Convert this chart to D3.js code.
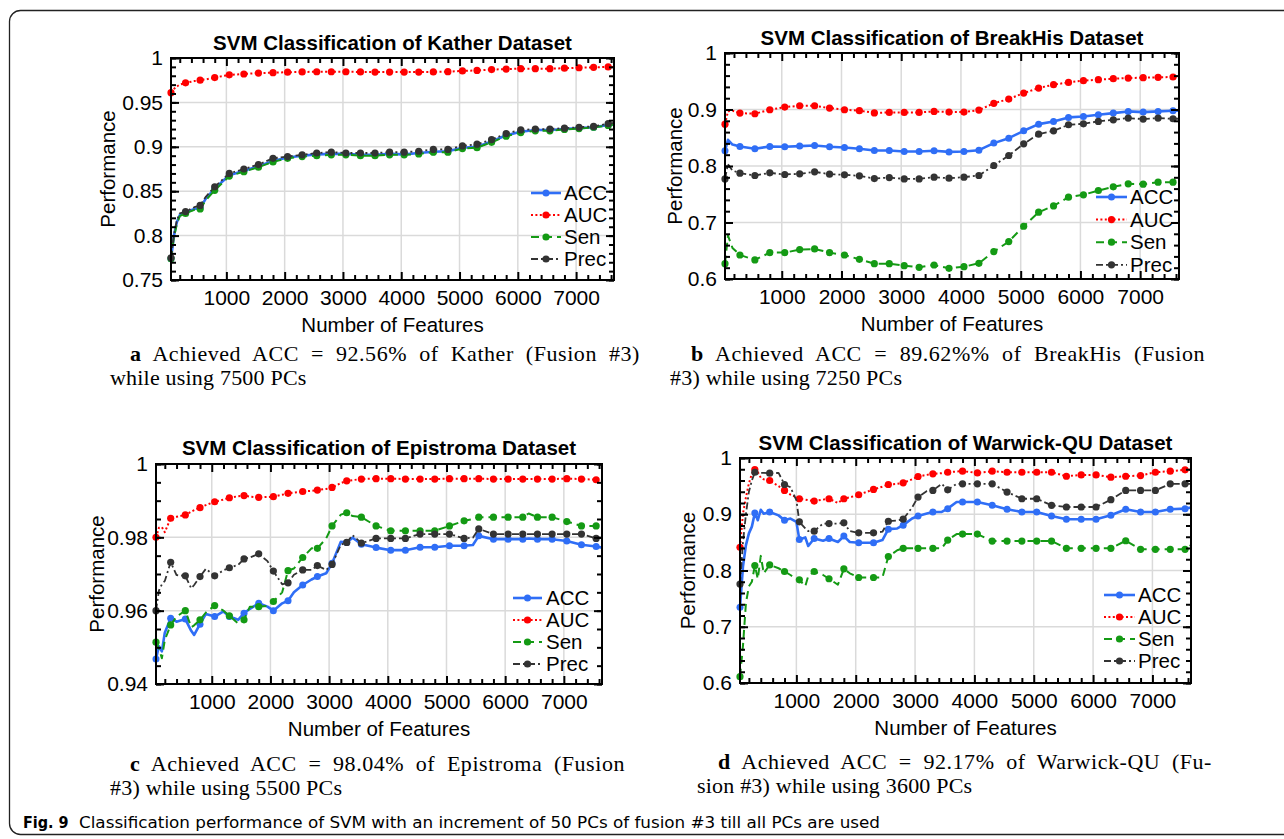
<!DOCTYPE html>
<html>
<head>
<meta charset="utf-8">
<script src="https://cdn.jsdelivr.net/npm/d3@7"></script>
<style>
body { margin: 0; background: #fff; }
svg { display: block; }
</style>
</head>
<body>
<svg id="canvas"></svg>
<script>
/** Shared values */
const seriesNames = ['ACC', 'AUC', 'Sen', 'Prec'];
const xMajorTicks = [1000, 2000, 3000, 4000, 5000, 6000, 7000];
const xMinorTicks = [200, 400, 600, 800, 1200, 1400, 1600, 1800, 2200, 2400, 2600, 2800, 3200, 3400, 3600, 3800,
    4200, 4400, 4600, 4800, 5200, 5400, 5600, 5800, 6200, 6400, 6600, 6800, 7200, 7400, 7600];

/** (a) Kather */
const katherX = [50, 100, 150, 200, 300, 450, 550, 650, 800, 1050,
    1300, 1550, 1800, 2050, 2300, 2550, 2800, 3050, 3300, 3550,
    3800, 4050, 4300, 4550, 4800, 5050, 5300, 5550, 5800, 6050,
    6300, 6550, 6800, 7050, 7300, 7550, 7650];
const katherACC = [0.774, 0.800, 0.815, 0.823, 0.826, 0.830, 0.831, 0.842, 0.853, 0.868,
    0.873, 0.878, 0.884, 0.888, 0.890, 0.8915, 0.892, 0.892, 0.891, 0.891,
    0.892, 0.8915, 0.893, 0.8945, 0.895, 0.899, 0.900, 0.906, 0.913, 0.917,
    0.919, 0.919, 0.920, 0.921, 0.922, 0.9245, 0.925];
const katherAUC = [0.961, 0.965, 0.968, 0.970, 0.972, 0.974, 0.975, 0.976, 0.978, 0.981,
    0.982, 0.983, 0.9835, 0.984, 0.9843, 0.9845, 0.9845, 0.9845, 0.9843, 0.9842,
    0.9842, 0.9842, 0.9842, 0.9843, 0.9846, 0.9855, 0.986, 0.987, 0.9875, 0.988,
    0.988, 0.988, 0.9885, 0.989, 0.9895, 0.990, 0.990];
const katherSen = [0.774, 0.798, 0.813, 0.822, 0.825, 0.829, 0.830, 0.840, 0.851, 0.867,
    0.872, 0.877, 0.883, 0.887, 0.889, 0.890, 0.891, 0.891, 0.890, 0.890,
    0.891, 0.891, 0.892, 0.894, 0.894, 0.898, 0.899, 0.905, 0.912, 0.916,
    0.918, 0.918, 0.9195, 0.9205, 0.922, 0.924, 0.925];
const katherPrec = [0.775, 0.801, 0.817, 0.825, 0.827, 0.832, 0.834, 0.844, 0.855, 0.870,
    0.875, 0.880, 0.887, 0.889, 0.891, 0.893, 0.894, 0.893, 0.893, 0.893,
    0.894, 0.894, 0.895, 0.897, 0.897, 0.901, 0.903, 0.908, 0.915, 0.919,
    0.920, 0.920, 0.921, 0.922, 0.923, 0.926, 0.927];
const katherYTicks = [0.75, 0.8, 0.85, 0.9, 0.95, 1];

/** (b) BreakHis */
const breakX = [50, 100, 175, 300, 550, 800, 1050, 1300, 1550, 1800,
    2050, 2300, 2550, 2800, 3050, 3300, 3550, 3800, 4050, 4300,
    4550, 4800, 5050, 5300, 5550, 5800, 6050, 6300, 6550, 6800,
    7050, 7300, 7550, 7650];
const breakACC = [0.8269, 0.8464, 0.838, 0.8346, 0.8304, 0.8346, 0.834, 0.8352, 0.8363, 0.834,
    0.8328, 0.8304, 0.8275, 0.8275, 0.8257, 0.8257, 0.8269, 0.825, 0.8257, 0.828,
    0.8405, 0.8493, 0.8623, 0.8741, 0.8789, 0.886, 0.8877, 0.8907, 0.8936, 0.8966,
    0.8954, 0.8966, 0.8978, 0.8978];
const breakAUC = [0.874, 0.897, 0.898, 0.8936, 0.8925, 0.8996, 0.9043, 0.9066, 0.9066, 0.9025,
    0.8996, 0.898, 0.894, 0.8948, 0.8948, 0.8948, 0.8966, 0.8954, 0.8954, 0.899,
    0.911, 0.9185, 0.929, 0.938, 0.9439, 0.948, 0.951, 0.9527, 0.9545, 0.9557,
    0.9563, 0.957, 0.9575, 0.9575];
const breakSen = [0.6272, 0.6768, 0.655, 0.6425, 0.6337, 0.6467, 0.6467, 0.652, 0.6532, 0.6467,
    0.6425, 0.6349, 0.6272, 0.6272, 0.6236, 0.6207, 0.6248, 0.6189, 0.6218, 0.6278,
    0.6485, 0.6662, 0.6934, 0.7182, 0.7294, 0.7448, 0.749, 0.7566, 0.7631, 0.7684,
    0.7678, 0.7714, 0.7714, 0.7714];
const breakPrec = [0.7772, 0.8032, 0.792, 0.7873, 0.7832, 0.7879, 0.785, 0.7861, 0.7897, 0.7855,
    0.7844, 0.7826, 0.7778, 0.7796, 0.7772, 0.7772, 0.7802, 0.7784, 0.7802, 0.7832,
    0.8009, 0.8186, 0.8393, 0.8564, 0.8623, 0.873, 0.8747, 0.8789, 0.8818, 0.8848,
    0.883, 0.8848, 0.8836, 0.8836];
const breakYTicks = [0.6, 0.7, 0.8, 0.9, 1];

/** (c) Epistroma */
const epiX = [50, 100, 150, 200, 300, 400, 550, 650, 700, 800,
    900, 1050, 1200, 1300, 1450, 1550, 1650, 1800, 1950, 2050,
    2200, 2300, 2400, 2550, 2700, 2800, 2950, 3050, 3200, 3300,
    3400, 3550, 3800, 4050, 4300, 4550, 4800, 5050, 5300, 5450,
    5550, 5800, 6050, 6300, 6400, 6550, 6800, 7050, 7300, 7550,
    7650];
const epiACC = [0.9468, 0.9503, 0.9489, 0.9540, 0.9579, 0.9570, 0.9577, 0.9545, 0.9534, 0.9563,
    0.9591, 0.9584, 0.9598, 0.9584, 0.9575, 0.9593, 0.9605, 0.9620, 0.9611, 0.9600,
    0.9620, 0.9627, 0.9650, 0.9670, 0.9685, 0.9693, 0.9702, 0.9729, 0.9788, 0.9786,
    0.9799, 0.9781, 0.9772, 0.9765, 0.9765, 0.9773, 0.9773, 0.9777, 0.9777, 0.9779,
    0.9804, 0.9795, 0.9795, 0.9795, 0.9797, 0.9795, 0.9795, 0.9790, 0.9780, 0.9775,
    0.9772];
const epiAUC = [0.9800, 0.9826, 0.9828, 0.9814, 0.9852, 0.9856, 0.9861, 0.9870, 0.9874, 0.9881,
    0.9888, 0.9897, 0.9903, 0.9908, 0.9912, 0.9914, 0.9911, 0.9909, 0.9910, 0.9911,
    0.9916, 0.9920, 0.9922, 0.9925, 0.9927, 0.9929, 0.9932, 0.9936, 0.9948, 0.9954,
    0.9956, 0.9959, 0.9960, 0.9960, 0.9959, 0.9959, 0.9959, 0.9960, 0.9960, 0.9960,
    0.9960, 0.9959, 0.9959, 0.9959, 0.9959, 0.9959, 0.9959, 0.9960, 0.9959, 0.9957,
    0.9955];
const epiSen = [0.9514, 0.9497, 0.9470, 0.9520, 0.9561, 0.9584, 0.9600, 0.9555, 0.9560, 0.9575,
    0.9595, 0.9614, 0.9600, 0.9586, 0.9565, 0.9575, 0.9611, 0.9611, 0.9613, 0.9625,
    0.9650, 0.9709, 0.9715, 0.9745, 0.9770, 0.9770, 0.9797, 0.9831, 0.9862, 0.9867,
    0.9858, 0.9855, 0.9831, 0.9818, 0.9818, 0.9818, 0.9818, 0.9831, 0.9845, 0.9850,
    0.9855, 0.9855, 0.9855, 0.9855, 0.9865, 0.9855, 0.9855, 0.9843, 0.9831, 0.9831,
    0.9831];
const epiPrec = [0.9600, 0.9655, 0.9672, 0.9681, 0.9732, 0.9697, 0.9695, 0.9661, 0.9670, 0.9693,
    0.9714, 0.9695, 0.9710, 0.9717, 0.9725, 0.9741, 0.9745, 0.9755, 0.9735, 0.9708,
    0.9672, 0.9676, 0.9698, 0.9711, 0.9711, 0.9723, 0.9711, 0.9726, 0.9780, 0.9786,
    0.9806, 0.9784, 0.9797, 0.9797, 0.9797, 0.9809, 0.9809, 0.9809, 0.9797, 0.9799,
    0.9823, 0.9809, 0.9809, 0.9809, 0.9809, 0.9809, 0.9809, 0.9809, 0.9809, 0.9797,
    0.9797];
const epiYTicks = [0.94, 0.96, 0.98, 1];

/** (d) Warwick-QU */
const warX = [50, 100, 150, 200, 250, 300, 350, 400, 450, 550,
    700, 800, 900, 1000, 1050, 1150, 1200, 1300, 1450, 1550,
    1700, 1800, 1900, 2050, 2300, 2450, 2550, 2700, 2800, 2950,
    3050, 3200, 3300, 3450, 3550, 3700, 3800, 4050, 4300, 4550,
    4800, 5050, 5300, 5550, 5800, 6050, 6300, 6550, 6800, 7050,
    7300, 7550, 7650];
const warACC = [0.7347, 0.807, 0.845, 0.866, 0.878, 0.9024, 0.8894, 0.908, 0.901, 0.904,
    0.898, 0.8894, 0.8924, 0.8865, 0.8553, 0.8588, 0.8435, 0.857, 0.8529, 0.857,
    0.8506, 0.8612, 0.8506, 0.8494, 0.8494, 0.8541, 0.8735, 0.8747, 0.8806, 0.8924,
    0.897, 0.9012, 0.9041, 0.9041, 0.910, 0.9218, 0.9218, 0.9218, 0.9159, 0.9088,
    0.9041, 0.9041, 0.897, 0.8912, 0.8912, 0.8912, 0.8982, 0.9088, 0.9041, 0.9041,
    0.9088, 0.910, 0.912];
const warAUC = [0.8412, 0.901, 0.930, 0.955, 0.972, 0.9794, 0.975, 0.965, 0.962, 0.960,
    0.950, 0.9424, 0.935, 0.930, 0.9276, 0.926, 0.925, 0.9235, 0.926, 0.9276,
    0.920, 0.9276, 0.930, 0.9347, 0.9441, 0.949, 0.9529, 0.954, 0.9559, 0.962,
    0.9671, 0.970, 0.9718, 0.973, 0.9747, 0.976, 0.9765, 0.9735, 0.9765, 0.9747,
    0.9747, 0.9747, 0.9747, 0.9676, 0.970, 0.970, 0.9659, 0.9676, 0.9688, 0.9747,
    0.9765, 0.979, 0.979];
const warSen = [0.6112, 0.666, 0.742, 0.772, 0.780, 0.8088, 0.785, 0.826, 0.795, 0.810,
    0.804, 0.7982, 0.792, 0.785, 0.7835, 0.772, 0.790, 0.7982, 0.792, 0.7853,
    0.7747, 0.8029, 0.795, 0.7876, 0.7876, 0.7876, 0.8247, 0.836, 0.8394, 0.8394,
    0.8394, 0.8394, 0.8394, 0.8394, 0.8541, 0.8647, 0.8647, 0.8647, 0.8523, 0.8523,
    0.8523, 0.8523, 0.8523, 0.8394, 0.8394, 0.8394, 0.8394, 0.8529, 0.8376, 0.8376,
    0.8376, 0.8376, 0.845];
const warPrec = [0.7759, 0.850, 0.900, 0.940, 0.960, 0.9747, 0.972, 0.9735, 0.9735, 0.973,
    0.9735, 0.9529, 0.948, 0.925, 0.8865, 0.875, 0.870, 0.870, 0.8835, 0.8835,
    0.8835, 0.8847, 0.870, 0.867, 0.867, 0.869, 0.8876, 0.889, 0.8912, 0.912,
    0.9306, 0.9412, 0.9424, 0.9541, 0.9435, 0.9541, 0.9541, 0.9541, 0.9541, 0.9394,
    0.9276, 0.9276, 0.9159, 0.9129, 0.9129, 0.9129, 0.9259, 0.9424, 0.9424, 0.9424,
    0.9541, 0.9541, 0.9541];
const warYTicks = [0.6, 0.7, 0.8, 0.9, 1];

/** Main values */
let width = 1284;
let height = 839;
let tickFont = '"Liberation Sans", Arial, Helvetica, sans-serif';
let serifFont = '"Liberation Serif", "Times New Roman", serif';
let narrowFont = '"Liberation Sans Narrow", "DejaVu Sans Condensed", sans-serif';

let styles = {
    ACC: { color: '#2f6ef6', width: 2.6, dash: null, r: 3.5 },
    AUC: { color: '#ff0000', width: 2, dash: '2,2.4', r: 3.6 },
    Sen: { color: '#149a14', width: 2, dash: '8,5', r: 3.6 },
    Prec: { color: '#333333', width: 1.8, dash: '7,3,2,3', r: 3.6 }
};

let panels = [
    {
        title: 'SVM Classification of Kather Dataset', titleY: 50,
        x: katherX, series: { ACC: katherACC, AUC: katherAUC, Sen: katherSen, Prec: katherPrec },
        yTicks: katherYTicks, yMinor: 5,
        left: 171, right: 614, top: 58, bottom: 280, ylabelX: 108,
        legend: { x0: 531, x1: 561, tx: 564, y0: 193, dy: 22 }
    },
    {
        title: 'SVM Classification of BreakHis Dataset', titleY: 45,
        x: breakX, series: { ACC: breakACC, AUC: breakAUC, Sen: breakSen, Prec: breakPrec },
        yTicks: breakYTicks, yMinor: 5,
        left: 725, right: 1179, top: 53, bottom: 279, ylabelX: 675,
        legend: { x0: 1096, x1: 1127, tx: 1130, y0: 197, dy: 22.6 }
    },
    {
        title: 'SVM Classification of Epistroma Dataset', titleY: 455,
        x: epiX, series: { ACC: epiACC, AUC: epiAUC, Sen: epiSen, Prec: epiPrec },
        yTicks: epiYTicks, yMinor: 4,
        left: 156, right: 602, top: 464, bottom: 684, ylabelX: 97,
        legend: { x0: 513, x1: 542, tx: 546, y0: 598, dy: 22 }
    },
    {
        title: 'SVM Classification of Warwick-QU Dataset', titleY: 450,
        x: warX, series: { ACC: warACC, AUC: warAUC, Sen: warSen, Prec: warPrec },
        yTicks: warYTicks, yMinor: 5,
        left: 740, right: 1191, top: 458, bottom: 683, ylabelX: 688,
        legend: { x0: 1104, x1: 1135, tx: 1138, y0: 595, dy: 22 }
    }
];

let captions = [
    { letter: 'a', first: ' Achieved ACC = 92.56% of Kather (Fusion #3)', second: 'while using 7500 PCs', x1: 130, x2: 110, len: 510, y: 361 },
    { letter: 'b', first: ' Achieved ACC = 89.62%% of BreakHis (Fusion', second: '#3) while using 7250 PCs', x1: 691, x2: 670, len: 514, y: 361 },
    { letter: 'c', first: ' Achieved ACC = 98.04% of Epistroma (Fusion', second: '#3) while using 5500 PCs', x1: 130, x2: 110, len: 495, y: 771 },
    { letter: 'd', first: ' Achieved ACC = 92.17% of Warwick-QU (Fu-', second: 'sion #3) while using 3600 PCs', x1: 718, x2: 697, len: 494, y: 769 }
];

let canvas = d3.select('#canvas');

/** Canvas and outer frame */
const drawCanvas = () => {
    canvas.attr('width', width).attr('height', height);
    canvas.append('rect')
        .attr('x', 9.5).attr('y', 10.5)
        .attr('width', 1310).attr('height', 824)
        .attr('rx', 11)
        .attr('fill', 'none')
        .attr('stroke', '#222')
        .attr('stroke-width', 1.3);
};

/** One subplot */
const drawPanel = (p) => {
    let xScale = d3.scaleLinear()
        .domain([50, 7650])
        .range([p.left, p.right]);

    let y0 = p.yTicks[0];
    let y1 = p.yTicks[p.yTicks.length - 1];
    let yScale = d3.scaleLinear()
        .domain([y0, y1])
        .range([p.bottom, p.top]);

    let step = (p.yTicks[1] - p.yTicks[0]) / p.yMinor;
    let yMinorTicks = d3.range(0, Math.round((y1 - y0) / step) + 1)
        .map(i => +(y0 + i * step).toFixed(4));

    let g = canvas.append('g');

    // grid
    g.append('g').selectAll('line')
        .data(xMajorTicks)
        .enter()
        .append('line')
        .attr('x1', d => xScale(d)).attr('x2', d => xScale(d))
        .attr('y1', p.top).attr('y2', p.bottom)
        .attr('stroke', '#dadada').attr('stroke-width', 1.5);

    g.append('g').selectAll('line')
        .data(p.yTicks.slice(1, -1))
        .enter()
        .append('line')
        .attr('x1', p.left).attr('x2', p.right)
        .attr('y1', d => yScale(d)).attr('y2', d => yScale(d))
        .attr('stroke', '#dadada').attr('stroke-width', 1.5);

    // series
    seriesNames.forEach((name) => {
        let st = styles[name];
        let pts = p.x.map((x, i) => [x, p.series[name][i]]);
        let line = d3.line()
            .x(d => xScale(d[0]))
            .y(d => yScale(d[1]));

        g.append('path')
            .datum(pts)
            .attr('d', line)
            .attr('fill', 'none')
            .attr('stroke', st.color)
            .attr('stroke-width', st.width)
            .attr('stroke-dasharray', st.dash)
            .attr('stroke-linejoin', 'round');

        g.append('g').selectAll('circle')
            .data(pts.filter(d => (d[0] - 50) % 250 === 0))
            .enter()
            .append('circle')
            .attr('cx', d => xScale(d[0]))
            .attr('cy', d => yScale(d[1]))
            .attr('r', st.r)
            .attr('fill', st.color);
    });

    // axes (ticks pointing inward)
    let styleAxis = (a) => {
        a.select('.domain').remove();
        a.attr('font-size', 21).attr('font-family', tickFont);
        a.selectAll('.tick line').attr('stroke', '#000').attr('stroke-width', 2);
        a.selectAll('.tick text').attr('fill', '#000');
    };

    g.append('g')
        .attr('transform', `translate(0, ${p.bottom})`)
        .call(d3.axisBottom(xScale).tickValues(xMajorTicks).tickSizeInner(-8).tickSizeOuter(0)
            .tickPadding(10).tickFormat(d3.format('d')))
        .call(styleAxis);
    g.append('g')
        .attr('transform', `translate(0, ${p.bottom})`)
        .call(d3.axisBottom(xScale).tickValues(xMinorTicks).tickSizeInner(-5).tickSizeOuter(0).tickFormat(''))
        .call(styleAxis);
    g.append('g')
        .attr('transform', `translate(0, ${p.top})`)
        .call(d3.axisTop(xScale).tickValues(xMajorTicks).tickSizeInner(-8).tickSizeOuter(0).tickFormat(''))
        .call(styleAxis);
    g.append('g')
        .attr('transform', `translate(0, ${p.top})`)
        .call(d3.axisTop(xScale).tickValues(xMinorTicks).tickSizeInner(-5).tickSizeOuter(0).tickFormat(''))
        .call(styleAxis);

    g.append('g')
        .attr('transform', `translate(${p.left}, 0)`)
        .call(d3.axisLeft(yScale).tickValues(p.yTicks).tickSizeInner(-8).tickSizeOuter(0)
            .tickPadding(8).tickFormat(d => String(+d.toFixed(3))))
        .call(styleAxis);
    g.append('g')
        .attr('transform', `translate(${p.left}, 0)`)
        .call(d3.axisLeft(yScale).tickValues(yMinorTicks).tickSizeInner(-5).tickSizeOuter(0).tickFormat(''))
        .call(styleAxis);
    g.append('g')
        .attr('transform', `translate(${p.right}, 0)`)
        .call(d3.axisRight(yScale).tickValues(p.yTicks).tickSizeInner(-8).tickSizeOuter(0).tickFormat(''))
        .call(styleAxis);
    g.append('g')
        .attr('transform', `translate(${p.right}, 0)`)
        .call(d3.axisRight(yScale).tickValues(yMinorTicks).tickSizeInner(-5).tickSizeOuter(0).tickFormat(''))
        .call(styleAxis);

    // box
    g.append('rect')
        .attr('x', p.left).attr('y', p.top)
        .attr('width', p.right - p.left).attr('height', p.bottom - p.top)
        .attr('fill', 'none')
        .attr('stroke', '#000')
        .attr('stroke-width', 2);

    // title and labels
    g.append('text')
        .attr('x', (p.left + p.right) / 2).attr('y', p.titleY)
        .attr('text-anchor', 'middle')
        .attr('font-family', tickFont).attr('font-weight', 'bold').attr('font-size', 20.5)
        .text(p.title);

    g.append('text')
        .attr('x', (p.left + p.right) / 2).attr('y', p.bottom + 52)
        .attr('text-anchor', 'middle')
        .attr('font-family', tickFont).attr('font-size', 20.5)
        .text('Number of Features');

    g.append('text')
        .attr('transform', `translate(${p.ylabelX}, ${(p.top + p.bottom) / 2}) rotate(-90)`)
        .attr('dy', '0.35em')
        .attr('text-anchor', 'middle')
        .attr('font-family', tickFont).attr('font-size', 20.5)
        .text('Performance');

    // legend
    let lg = p.legend;
    seriesNames.forEach((name, i) => {
        let st = styles[name];
        let ly = lg.y0 + i * lg.dy;
        g.append('line')
            .attr('x1', lg.x0).attr('x2', lg.x1)
            .attr('y1', ly).attr('y2', ly)
            .attr('stroke', st.color)
            .attr('stroke-width', st.width)
            .attr('stroke-dasharray', st.dash);
        g.append('circle')
            .attr('cx', (lg.x0 + lg.x1) / 2).attr('cy', ly)
            .attr('r', st.r)
            .attr('fill', st.color);
        g.append('text')
            .attr('x', lg.tx).attr('y', ly)
            .attr('dy', '0.35em')
            .attr('font-family', tickFont).attr('font-size', 20.5)
            .text(name);
    });
};

/** Sub-captions (first line justified) and figure caption */
const drawCaptions = () => {
    captions.forEach((c) => {
        let t = canvas.append('text')
            .attr('x', c.x1).attr('y', c.y)
            .attr('font-family', serifFont).attr('font-size', 22)
            .attr('letter-spacing', 0.55);
        t.append('tspan').attr('font-weight', 'bold').text(c.letter);
        t.append('tspan').text(c.first);

        let natural = t.node().getComputedTextLength();
        let gaps = c.first.split(' ').length - 1;
        t.attr('word-spacing', Math.max(0, (c.len - natural) / gaps));

        canvas.append('text')
            .attr('x', c.x2).attr('y', c.y + 23.5)
            .attr('font-family', serifFont).attr('font-size', 22)
            .attr('letter-spacing', 0.2)
            .text(c.second);
    });

    canvas.append('text')
        .attr('x', 23).attr('y', 828)
        .attr('font-family', narrowFont)
        .attr('font-weight', 'bold').attr('font-size', 16)
        .text('Fig. 9');

    canvas.append('text')
        .attr('x', 79).attr('y', 828)
        .attr('font-family', narrowFont)
        .attr('font-size', 16)
        .attr('textLength', 801)
        .attr('lengthAdjust', 'spacingAndGlyphs')
        .text('Classification performance of SVM with an increment of 50 PCs of fusion #3 till all PCs are used');
};

drawCanvas();
panels.forEach(drawPanel);
drawCaptions();
</script>
</body>
</html>
